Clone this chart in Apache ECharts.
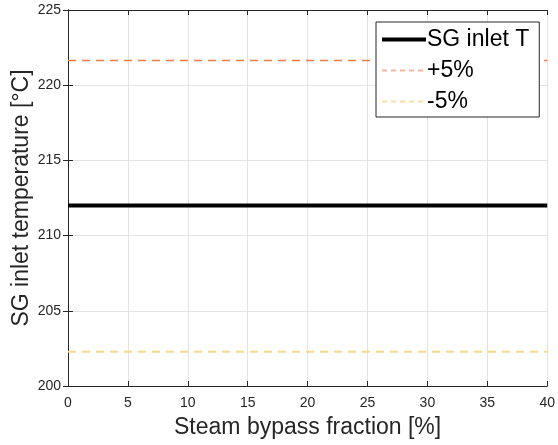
<!DOCTYPE html>
<html>
<head>
<meta charset="utf-8">
<script src="https://cdn.jsdelivr.net/npm/echarts@6/dist/echarts.min.js"></script>
<style>
  html, body { margin: 0; padding: 0; background: #fff; }
  #chart { width: 558px; height: 445px; }
</style>
</head>
<body>
<div id="chart"></div>
<script>
// Steam bypass fraction [%]
const bypassFraction = [0, 5, 10, 15, 20, 25, 30, 35, 40];
// SG inlet temperature [°C] and its ±5% band
const sgInletT = [212, 212, 212, 212, 212, 212, 212, 212, 212];
const plus5 = [221.65, 221.65, 221.65, 221.65, 221.65, 221.65, 221.65, 221.65, 221.65];
const minus5 = [202.27, 202.27, 202.27, 202.27, 202.27, 202.27, 202.27, 202.27, 202.27];
const seriesNames = ['SG inlet T', '+5%', '-5%'];

const FONT = '"Liberation Sans", Arial, Helvetica, sans-serif';
const TXT = '#262626';
const AX = '#262626';

function pairs(xs, ys) { return xs.map((x, i) => [x, ys[i]]); }

const chart = echarts.init(document.getElementById('chart'), null, { renderer: 'canvas' });

const axisCommon = {
  axisLine: { show: true, lineStyle: { color: AX, width: 1 } },
  axisTick: { show: true, inside: true, length: 5, lineStyle: { color: AX } },
};

const hidden = { opacity: 0 };

chart.setOption({
  animation: false,
  backgroundColor: '#fff',
  textStyle: { fontFamily: FONT },
  grid: { left: 68, right: 9, top: 10, bottom: 59, containLabel: false },
  legend: {
    orient: 'vertical',
    left: 376,
    top: 22,
    width: 162,
    padding: [6, 10, 4, 4],
    itemGap: 8,
    itemWidth: 44,
    itemHeight: 24,
    backgroundColor: '#fff',
    borderColor: '#262626',
    borderWidth: 1,
    borderRadius: 0,
    textStyle: { fontSize: 23, color: '#000', fontFamily: FONT, padding: [0, 0, 0, -4] },
    data: [
      { name: seriesNames[0], itemStyle: hidden, lineStyle: { color: '#000', width: 4 } },
      { name: seriesNames[1], itemStyle: hidden, lineStyle: { color: '#F2B79C', width: 2, type: [5, 4] } },
      { name: seriesNames[2], itemStyle: hidden, lineStyle: { color: '#F6DFA0', width: 2, type: [5, 4] } }
    ]
  },
  xAxis: [
    Object.assign({}, axisCommon, {
      type: 'value', min: 0, max: 40, interval: 5,
      name: 'Steam bypass fraction [%]',
      nameLocation: 'middle', nameGap: 30, nameMoveOverlap: false,
      nameTextStyle: { fontSize: 23, color: TXT, fontFamily: FONT },
      axisLabel: { fontSize: 14, color: TXT, margin: 10, fontFamily: FONT },
      splitLine: { show: true, lineStyle: { color: '#e3e3e3', width: 1 } }
    }),
    Object.assign({}, axisCommon, {
      type: 'value', min: 0, max: 40, interval: 5, position: 'top',
      axisLabel: { show: false }, splitLine: { show: false }
    })
  ],
  yAxis: [
    Object.assign({}, axisCommon, {
      type: 'value', min: 200, max: 225, interval: 5,
      name: 'SG inlet temperature [°C]',
      nameLocation: 'middle', nameGap: 35, nameMoveOverlap: false,
      nameTextStyle: { fontSize: 23, color: TXT, fontFamily: FONT },
      axisLabel: { fontSize: 14, color: TXT, margin: 7, fontFamily: FONT },
      splitLine: { show: true, lineStyle: { color: '#e3e3e3', width: 1 } }
    }),
    Object.assign({}, axisCommon, {
      type: 'value', min: 200, max: 225, interval: 5, position: 'right',
      axisLabel: { show: false }, splitLine: { show: false }
    })
  ],
  series: [
    {
      name: seriesNames[0], type: 'line', symbol: 'none',
      data: pairs(bypassFraction, sgInletT),
      lineStyle: { color: '#000', width: 4 }, itemStyle: { color: '#000' }, z: 5
    },
    {
      name: seriesNames[1], type: 'line', symbol: 'none',
      data: pairs(bypassFraction, plus5),
      lineStyle: { color: '#EE7C44', width: 1.5, type: [8, 6] }, itemStyle: { color: '#EE7C44' }
    },
    {
      name: seriesNames[2], type: 'line', symbol: 'none',
      data: pairs(bypassFraction, minus5),
      lineStyle: { color: '#F6D889', width: 2, type: [8, 6] }, itemStyle: { color: '#F6D889' }
    }
  ]
});
</script>
</body>
</html>
